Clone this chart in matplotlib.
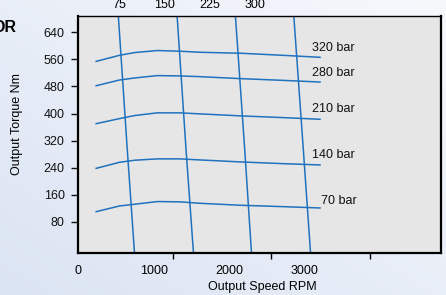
import numpy as np
import matplotlib.pyplot as plt
from matplotlib.colors import LinearSegmentedColormap

plt.rcParams['font.family'] = ['Liberation Sans', 'DejaVu Sans']

# torque curves (rpm -> Nm) for each pressure
rpm = [240, 550, 750, 1050, 1350, 1600, 2150, 2700, 3200]
pressures = ['320 bar', '280 bar', '210 bar', '140 bar', '70 bar']
torque = [
    [554, 572, 580, 586, 584, 581, 578, 572, 566],
    [482, 499, 505, 512, 511, 509, 503, 498, 493],
    [370, 385, 394, 402, 402, 399, 393, 388, 383],
    [238, 256, 262, 266, 266, 263, 257, 252, 248],
    [110, 127, 132, 140, 139, 135, 129, 125, 121],
]
label_pos = [(3095, 576), (3095, 501), (3095, 397), (3095, 261), (3214, 123)]

# flow lines (near vertical)
flow_torque = [690, 292, -15]
flow_rpm = [
    [533, 652, 748],
    [1310, 1429, 1528],
    [2081, 2205, 2295],
    [2853, 2980, 3076],
]
flow_ticks = [75, 150, 225, 300]

yticks = [80, 160, 240, 320, 400, 480, 560, 640]
xticks = [0, 1000, 2000, 3000]
xminor = [1257, 2550, 3860]

blue = '#1f72bd'

fig = plt.figure(figsize=(4.46, 2.95), dpi=100)

# light blue gradient background
bg = fig.add_axes([0, 0, 1, 1], zorder=-10)
gx, gy = np.meshgrid(np.linspace(0, 1, 200), np.linspace(0, 1, 200))
cmap = LinearSegmentedColormap.from_list('bg', ['#dbe4f3', '#f6f8fc'])
bg.imshow((gx + gy) / 2, cmap=cmap, origin='lower', extent=[0, 1, 0, 1],
          aspect='auto', vmin=0, vmax=1)
bg.axis('off')

ax = fig.add_axes([78 / 446, 42 / 295, 363 / 446, 237 / 295])
ax.set_facecolor('#e6e6e6')

for t in torque:
    ax.plot(rpm, t, color=blue, lw=1.1)
for name, (px, py) in zip(pressures, label_pos):
    ax.text(px, py, name, fontsize=9, va='bottom', ha='left', color='#111111')
for fr in flow_rpm:
    ax.plot(fr, flow_torque, color=blue, lw=1.1)

ax.set_xlim(0, 4800)
ax.set_ylim(-12, 688)

ax.set_yticks(yticks)
ax.tick_params(axis='y', length=5, width=1, pad=4.5, labelsize=9, colors='#111111')
ax.set_xticks(xticks)
ax.set_xticks(xminor, minor=True)
ax.tick_params(axis='x', which='major', length=0, pad=8.5, labelsize=9)
ax.tick_params(axis='x', which='minor', length=4, width=1)

for s in ['left', 'bottom', 'right']:
    ax.spines[s].set_linewidth(1.6)
ax.spines['top'].set_linewidth(1.0)

top = ax.twiny()
top.set_xlim(7, 608)
top.set_xticks(flow_ticks)
top.tick_params(axis='x', length=0, pad=3.5, labelsize=9)
for s in top.spines.values():
    s.set_visible(False)

fig.text(17 / 446, 1 - 124 / 295, 'Output Torque Nm', rotation=90,
         fontsize=9, ha='center', va='center')
fig.text(262 / 446, 1 - 287 / 295, 'Output Speed RPM', fontsize=9,
         ha='center', va='center')
fig.text(16 / 446, 1 - 32.5 / 295, 'OR', fontsize=11.5, fontweight='bold',
         ha='right', va='baseline')

fig.savefig('out.png', dpi=100)
